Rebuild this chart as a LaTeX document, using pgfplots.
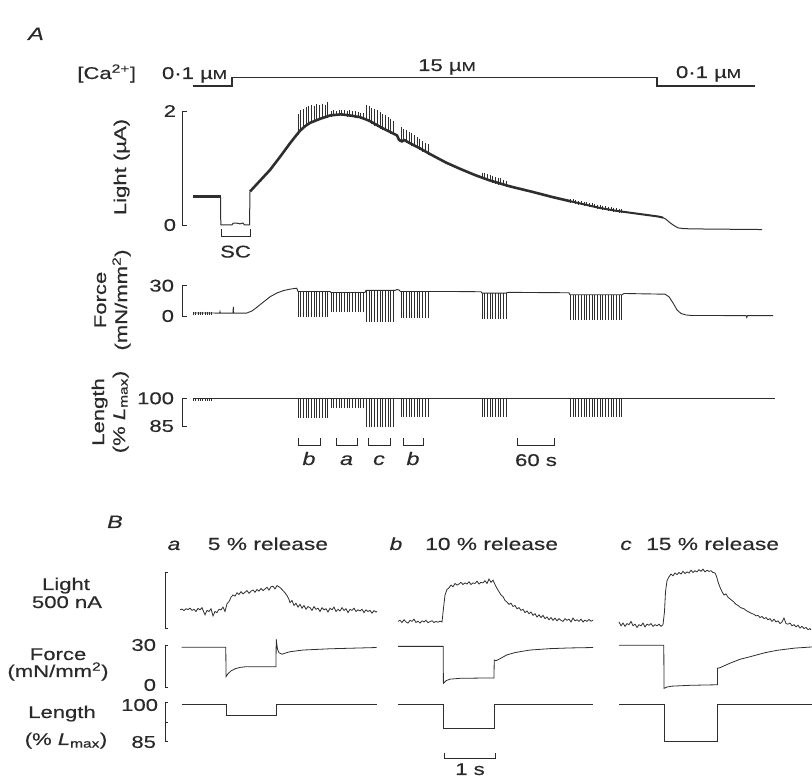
\documentclass[border=0pt]{standalone}
\usepackage{fontspec}
\setmainfont{Liberation Sans}[FakeStretch=1.3, FakeBold=0.5]
\usepackage{pgfplots}
\pgfplotsset{compat=1.18}
\usepackage{pgfplotstable}
\definecolor{ink}{HTML}{2A2A2A}
\definecolor{tr}{HTML}{2E2E2E}
\newcommand{\fs}{\fontsize{17}{19}\selectfont}
\newcommand{\fh}{\fontsize{17.5}{20}\selectfont}
\newcommand{\uM}{\textmu{\fontsize{13}{13}\selectfont M}}
\pgfplotsset{panel/.style={hide axis, clip=false, scale only axis, anchor=south west, xmin=0, xmax=812, width=812pt}}

% spike table: x, force top, force depth, length depth, light top, light depth
\pgfplotstableread{
x ft fd ld lt lgd
193.5 4 3.3 1.2 nan 0
195.8 4 3.3 1.2 nan 0
198.1 4 3.3 1.2 nan 0
200.4 4 3.3 1.2 nan 0
202.7 4 3.3 1.2 nan 0
205.0 4 3.3 1.2 nan 0
207.3 4 3.3 1.2 nan 0
209.6 4 3.3 1.2 nan 0
211.9 4 3.3 1.2 nan 0
298.0 24.3 25.0 10.4 1.95 0.36
300.7 24.3 25.3 10.4 2.02 0.36
303.4 24.3 24.8 10.4 2.05 0.35
306.1 24.3 25.0 10.4 2.08 0.34
308.8 24.3 25.2 10.4 2.10 0.32
311.5 24.3 25.0 10.4 2.12 0.32
314.2 24.3 24.9 10.4 2.09 0.27
316.9 24.3 25.1 10.4 2.13 0.29
319.6 24.3 25.0 10.4 2.11 0.25
322.3 24.3 25.0 10.4 2.14 0.27
325.0 24.3 24.8 10.4 2.12 0.24
327.7 24.3 25.0 10.4 2.17 0.28
331.0 23.3 19.0 5.0 2.00 0.10
333.7 23.3 19.0 5.0 2.02 0.10
336.4 23.3 19.0 5.0 2.01 0.09
339.1 23.3 19.0 5.0 2.03 0.10
341.8 23.3 19.0 5.0 2.02 0.10
344.5 23.3 19.0 5.0 2.03 0.11
347.2 23.3 19.0 5.0 2.01 0.10
349.9 23.3 19.0 5.0 2.02 0.11
352.6 23.3 19.0 5.0 2.00 0.10
355.3 23.3 19.0 5.0 2.01 0.12
358.0 23.3 19.0 5.0 1.99 0.11
360.7 23.3 19.0 5.0 1.98 0.11
363.4 23.3 19.0 5.0 1.97 0.11
366.5 25.3 31.0 15.5 2.12 0.29
369.2 25.3 31.0 15.5 2.10 0.29
371.9 25.3 31.0 15.5 2.07 0.29
374.6 25.3 31.0 15.5 2.05 0.30
377.3 25.3 31.0 15.5 2.02 0.29
380.0 25.3 31.0 15.5 1.99 0.29
382.7 25.3 31.0 15.5 1.96 0.28
385.4 25.3 31.0 15.5 1.93 0.27
388.1 25.3 31.0 15.5 1.90 0.27
390.8 25.3 31.0 15.5 1.87 0.26
393.5 25.3 31.0 15.5 1.84 0.26
401.0 24.3 26.6 10.0 1.72 0.25
403.7 24.3 26.6 10.0 1.70 0.24
406.4 24.3 26.6 10.0 1.67 0.23
409.1 24.3 26.6 10.0 1.64 0.22
411.8 24.3 26.6 10.0 1.62 0.22
414.5 24.3 26.6 10.0 1.58 0.21
417.2 24.3 26.6 10.0 1.55 0.20
419.9 24.3 26.6 10.0 1.52 0.20
422.6 24.3 26.6 10.0 1.48 0.19
425.3 24.3 26.6 10.0 1.45 0.18
428.0 24.3 26.6 10.0 1.42 0.18
482.0 22.7 26.0 10.0 0.92 0.11
484.7 22.7 26.0 10.0 0.91 0.12
487.4 22.7 26.0 10.0 0.90 0.13
490.1 22.7 26.0 10.0 0.88 0.12
492.8 22.7 26.0 10.0 0.87 0.13
495.5 22.7 26.0 10.0 0.85 0.12
498.2 22.7 26.0 10.0 0.83 0.12
500.9 22.7 26.0 10.0 0.82 0.12
503.6 22.7 26.0 10.0 0.80 0.12
506.0 22.7 26.0 10.0 0.78 0.11
570.5 21.0 25.0 10.0 0.46 0.07
573.2 21.0 25.0 10.0 0.45 0.07
575.9 21.0 25.0 10.0 0.44 0.07
578.6 21.0 25.0 10.0 0.43 0.07
581.3 21.0 25.0 10.0 0.42 0.07
584.0 21.0 25.0 10.0 0.41 0.07
586.7 21.0 25.0 10.0 0.40 0.07
589.4 21.0 25.0 10.0 0.39 0.07
592.1 21.0 25.0 10.0 0.38 0.07
594.8 21.0 25.0 10.0 0.37 0.07
597.5 21.0 25.0 10.0 0.36 0.07
600.2 21.0 25.0 10.0 0.35 0.07
602.9 21.0 25.0 10.0 0.34 0.07
605.6 21.0 25.0 10.0 0.335 0.07
608.3 21.0 25.0 10.0 0.325 0.07
611.0 21.0 25.0 10.0 0.315 0.07
613.7 21.0 25.0 10.0 0.305 0.07
616.4 21.0 25.0 10.0 0.295 0.07
619.1 21.0 25.0 10.0 0.29 0.07
621.5 21.0 25.0 10.0 0.285 0.07
}\spikes

\begin{document}
\begin{tikzpicture}[x=1pt,y=1pt, font=\fs, text=ink, every node/.style={inner sep=0pt, outer sep=0pt}]
\path[use as bounding box] (0,0) rectangle (812,777);

%================ Panel A =================
\node[anchor=base, font=\fontsize{18}{20}\selectfont\itshape] at (36,737) {A};

% Ca trace
\begin{axis}[panel, at={(0pt,691pt)}, ymin=0.1, ymax=15, height=8.5pt]
\addplot[tr, line width=1.1pt] coordinates {(193,0.1)(232,0.1)(232,15)(657,15)(657,0.1)(755,0.1)};
\end{axis}
\node[anchor=base east] at (136,698) {[Ca\textsuperscript{2+}]};
\node[anchor=base west] at (162,698) {0·1 \uM};
\node[anchor=base] at (447,706) {15 \uM};
\node[anchor=base west] at (676,699) {0·1 \uM};

% Light A
\begin{axis}[panel, at={(0pt,552pt)}, ymin=0, ymax=2, height=113.5pt]
\addplot[tr, line width=3pt] coordinates {(193,0.5)(220.5,0.5)};
\addplot[tr, line width=1pt] coordinates {(220.5,0.5)(220.8,0)(232,0)(233,0.03)(236,0.035)(240,0.02)(243,0.035)(244.5,0)(249.5,0)(250,0.59)};
\addplot[tr, line width=2.6pt, line join=round] coordinates {(250,0.59)(260,0.78)(270,0.97)(280,1.2)(290,1.44)(296.7,1.59)(300,1.66)(305,1.74)(310,1.8)(320,1.87)(330,1.93)(341,1.95)(350,1.93)(360,1.9)(366,1.86)(370,1.83)(380,1.73)(390,1.64)(397,1.58)(399,1.5)(402,1.47)(404,1.5)(410,1.44)(420,1.35)(430,1.25)(446,1.1)(460,0.99)(475,0.88)(489,0.79)(510,0.68)(531,0.59)(553,0.49)(570,0.42)};
\addplot[tr, line width=2pt, line join=round] coordinates {(570,0.42)(585,0.36)(600,0.3)(616,0.25)(637,0.2)(658,0.15)(663,0.13)};
\addplot[tr, line width=1pt] coordinates {(663,0.13)(666,0.1)(670,0.04)(674,-0.01)(678,-0.05)(684,-0.065)(700,-0.07)(730,-0.075)(762,-0.08)};
\addplot[draw=none, mark=none, forget plot, error bars/.cd, y dir=minus, y explicit, error mark=none, error bar style={draw=tr, line width=1pt}] table[x=x, y=lt, y error minus=lgd] {\spikes};
\end{axis}
\draw[ink, line width=0.9pt] (187,665.5) -- (182,665.5) -- (182,552) -- (187,552);
\node[anchor=east] at (176,666) {2};
\node[anchor=east] at (176,552) {0};
\node[rotate=90, anchor=base] at (126,610) {Light (\textmu A)};
% SC bracket
\draw[ink, line width=0.9pt] (221,548) -- (221,541) -- (250,541) -- (250,548);
\node[anchor=base] at (235.5,519.5) {SC};

% Force A
\begin{axis}[panel, at={(0pt,461pt)}, ymin=0, ymax=30, height=30.3pt]
\addplot[draw=none, mark=none, forget plot, error bars/.cd, y dir=minus, y explicit, error mark=none, error bar style={draw=tr, line width=1pt}] table[x=x, y=ft, y error minus=fd] {\spikes};
\addplot[tr, line width=0.9pt] coordinates {(193,3)(212,3)(219.7,2.8)(220,4.2)(220.3,2.8)(233,2.8)(233.3,9)(233.6,2.8)(246.7,2.9)(252,5)(256.7,8.5)(263,13.5)(270,19)(277,22.8)(283,25)(290,26.6)(296.7,27.5)(298,24.3)(330,24.3)(331,23.3)(365,23.3)(366,25.3)(395,25.3)(397,26.2)(399,25.8)(400.5,24.3)(428,24.3)(440,24.3)(460,24.2)(481,24)(482,22.7)(506,22.7)(508,23.4)(540,23.2)(569,23)(570,21)(622,21)(624,22.3)(640,22)(665,21.6)(669,19)(673,13)(677,6)(681,2.5)(686,1)(692,0.5)(746,0.4)(746.8,-1.5)(747.5,0.4)(773,0.3)};
\end{axis}
\draw[ink, line width=0.9pt] (187,491.3) -- (182,491.3) -- (182,461) -- (187,461);
\node[anchor=east] at (174,491.3) {30};
\node[anchor=east] at (174,461) {0};
\node[rotate=90, anchor=base] at (106,477) {Force};
\node[rotate=90, anchor=base] at (127,477) {(mN/mm\textsuperscript{2})};

% Length A
\begin{axis}[panel, at={(0pt,351pt)}, ymin=85, ymax=100, height=27.7pt]
\addplot[draw=none, mark=none, forget plot, error bars/.cd, y dir=minus, y explicit, error mark=none, error bar style={draw=tr, line width=1pt}] table[x=x, y expr=100, y error minus=ld] {\spikes};
\addplot[tr, line width=0.9pt] coordinates {(193,99.8)(775,99.8)};
\end{axis}
\draw[ink, line width=0.9pt] (187,378.7) -- (182,378.7) -- (182,351) -- (187,351);
\node[anchor=east] at (174,378.7) {100};
\node[anchor=east] at (174,351) {85};
\node[rotate=90, anchor=base] at (104,365) {Length};
\node[rotate=90, anchor=base] at (125,365) {(\% \textit{L}\textsubscript{max})};

% brackets b a c b, 60 s
\foreach \a/\b/\l in {298/320/b, 336/357/a, 368/390/c, 403/423/b}{
  \draw[ink, line width=0.9pt] (\a,339) -- (\a,332) -- (\b,332) -- (\b,339);
  \node[anchor=base, font=\fontsize{18}{20}\selectfont\itshape] at ({(\a+\b)/2},312) {\l};
}
\draw[ink, line width=0.9pt] (517,339) -- (517,332) -- (554,332) -- (554,339);
\node[anchor=base] at (536,311) {60 s};

%================ Panel B =================
\node[anchor=base, font=\fontsize{18}{20}\selectfont\itshape] at (115,249) {B};
\node[anchor=base, font=\fh\itshape] at (174,227) {a};
\node[anchor=base east, font=\fh] at (328,227) {5 \% release};
\node[anchor=base, font=\fh\itshape] at (396,227) {b};
\node[anchor=base east, font=\fh] at (558,227) {10 \% release};
\node[anchor=base, font=\fh\itshape] at (626,227) {c};
\node[anchor=base east, font=\fh] at (779,227) {15 \% release};

% Light B
\begin{axis}[panel, at={(0pt,149pt)}, ymin=0, ymax=500, height=55pt]
\addplot[tr, line width=0.8pt] coordinates {(180,165)(182,172)(184,158)(186,175)(188,168)(190,180)(192,160)(194,170)(196,150)(198,178)(200,165)(202,185)(204,140)(205,120)(207,160)(209,150)(211,175)(213,110)(215,150)(217,140)(219,170)(221,165)(223,190)(225,150)(227,220)(229,240)(231,280)(233,300)(235,290)(237,320)(239,305)(241,330)(243,310)(245,325)(247,340)(249,315)(251,335)(253,345)(255,325)(257,350)(259,335)(261,360)(263,340)(265,355)(267,370)(269,345)(271,375)(273,380)(275,355)(277,385)(279,375)(281,360)(283,340)(285,320)(287,295)(289,260)(290,230)(292,250)(294,205)(296,225)(298,190)(300,215)(302,180)(304,205)(306,170)(308,195)(310,185)(312,160)(314,195)(316,170)(318,180)(320,150)(322,185)(324,165)(326,175)(328,145)(330,180)(332,165)(334,190)(336,150)(338,170)(340,155)(342,185)(344,160)(346,175)(348,140)(350,170)(352,160)(354,180)(356,150)(358,165)(360,155)(362,170)(364,140)(366,165)(368,150)(370,160)(372,135)(374,158)(376,145)(377,150)};
\addplot[tr, line width=0.8pt] coordinates {(398,60)(400,70)(402,50)(404,75)(406,55)(408,45)(410,70)(412,60)(414,80)(416,50)(418,62)(420,45)(422,65)(424,55)(426,70)(428,48)(430,58)(432,66)(434,50)(436,60)(438,52)(440,62)(442,55)(443.5,180)(445,300)(447,350)(449,365)(451,390)(453,375)(455,405)(457,390)(459,400)(461,415)(463,395)(465,410)(467,400)(469,420)(471,395)(473,410)(475,405)(477,425)(479,400)(481,415)(483,410)(485,430)(487,405)(489,445)(491,415)(493,435)(495,395)(497,360)(499,330)(501,300)(503,285)(505,250)(507,235)(509,215)(511,225)(513,195)(515,205)(517,175)(519,185)(521,160)(523,170)(525,140)(527,155)(529,130)(531,145)(533,115)(535,130)(537,100)(539,120)(541,95)(543,115)(545,85)(547,100)(549,75)(551,95)(553,70)(555,90)(557,65)(559,85)(561,70)(563,60)(565,85)(567,70)(569,80)(571,55)(573,90)(575,65)(577,75)(579,60)(581,80)(583,55)(585,72)(587,60)(589,78)(591,62)(593,70)};
\addplot[tr, line width=0.8pt] coordinates {(619,55)(621,20)(623,45)(625,15)(627,40)(629,30)(631,60)(633,20)(635,35)(637,5)(639,30)(641,20)(643,45)(645,10)(647,35)(649,25)(651,40)(653,15)(655,30)(657,20)(659,35)(661,15)(663,30)(664.5,150)(665.5,330)(667,430)(669,465)(671,490)(673,475)(675,500)(677,485)(679,505)(681,490)(683,515)(685,495)(687,510)(689,500)(691,525)(693,505)(695,520)(697,510)(699,530)(701,515)(703,535)(705,510)(707,525)(709,515)(711,520)(713,505)(715,500)(716.5,470)(718,420)(720,370)(722,330)(724,300)(726,310)(728,280)(730,265)(732,250)(734,235)(736,215)(738,205)(740,190)(742,180)(744,175)(746,160)(748,150)(750,140)(752,130)(754,125)(756,110)(758,115)(760,95)(762,105)(764,85)(766,95)(768,75)(770,85)(772,60)(774,80)(776,55)(778,65)(780,40)(782,55)(784,90)(786,40)(788,35)(790,45)(792,20)(794,30)(796,10)(798,25)(800,0)(802,15)(804,-5)(806,5)(808,-15)(810,-5)(811,-18)};
\end{axis}
\draw[ink, line width=0.8pt] (168,204.7) -- (165,204.7) -- (165,149) -- (168,149);
\node[anchor=base] at (66,187) {Light};
\node[anchor=base] at (67,169) {500 nA};

% Force B
\begin{axis}[panel, at={(0pt,90pt)}, ymin=0, ymax=30, height=42pt]
\addplot[tr, line width=0.8pt] coordinates {(181.7,28.4)(225.8,28.4)(226,7.4)(228,9.5)(231,11.5)(235,13)(240,14)(245,14.4)(276,14.5)(276.2,34.1)(277.5,27)(279,24.5)(282,23.4)(286,24.4)(290,25.2)(303,26.4)(330,27.3)(376.7,28.2)};
\addplot[tr, line width=0.8pt] coordinates {(398,29)(443.2,29)(443.4,2.6)(446,4.5)(450,5.6)(460,6.2)(494,6.5)(494.2,19.3)(496,18.8)(500,20.2)(506.7,22.9)(515,24.6)(530,26.4)(550,27.4)(570,27.9)(593,28.2)};
\addplot[tr, line width=0.8pt] coordinates {(619,29.8)(663.8,29.8)(664,-1)(667,0)(672,0.6)(690,1.2)(717.4,1.6)(717.6,13.4)(720,13.8)(730,17)(740,19.8)(751,21.8)(765,24.5)(777,26.2)(795,27.8)(812,28.6)};
\end{axis}
\draw[ink, line width=0.8pt] (168,132) -- (165,132) -- (165,90) -- (168,90);
\node[anchor=east] at (156,132) {30};
\node[anchor=east] at (156,92) {0};
\node[anchor=base] at (58,117) {Force};
\node[anchor=base] at (58,100) {(mN/mm\textsuperscript{2})};

% Length B
\begin{axis}[panel, at={(0pt,36pt)}, ymin=85, ymax=100, height=38pt]
\addplot[tr, line width=0.8pt] coordinates {(181.7,99.6)(226,99.6)(226,95)(276,95)(276,99.6)(376.7,99.6)};
\addplot[tr, line width=0.8pt] coordinates {(398,99.6)(443.3,99.6)(443.3,90)(494,90)(494,99.6)(593,99.6)};
\addplot[tr, line width=0.8pt] coordinates {(619,99.6)(664,99.6)(664,85)(717.6,85)(717.6,99.6)(812,99.6)};
\end{axis}
\draw[ink, line width=0.8pt] (168,75) -- (165,75) -- (165,36) -- (168,36);
\draw[ink, line width=0.8pt] (165,55) -- (167.5,55);
\node[anchor=east] at (158,72) {100};
\node[anchor=east] at (156,35) {85};
\node[anchor=base] at (62,59) {Length};
\node[anchor=base] at (66,32) {(\% \textit{L}\textsubscript{max})};

% 1 s bar
\draw[ink, line width=0.8pt] (444,24) -- (444,19) -- (495,19) -- (495,24);
\node[anchor=base] at (470,2) {1 s};
\end{tikzpicture}
\end{document}
